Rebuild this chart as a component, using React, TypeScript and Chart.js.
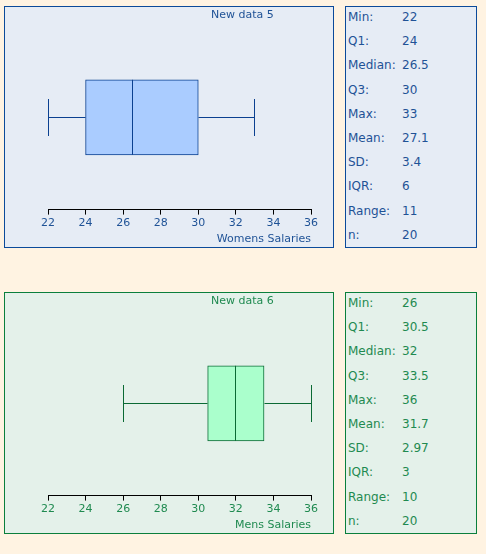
import React, { useEffect, useRef } from "react";
import { Chart, registerables } from "chart.js";

Chart.register(...registerables);

const categories = ["Womens Salaries", "Mens Salaries"];
const titles = ["New data 5", "New data 6"];
const mins = [22, 26];
const q1s = [24, 30.5];
const medians = [26.5, 32];
const q3s = [30, 33.5];
const maxs = [33, 36];
const means = [27.1, 31.7];
const sds = [3.4, 2.97];
const iqrs = [6, 3];
const ranges = [11, 10];
const ns = [20, 20];
const statLabels = ["Min:", "Q1:", "Median:", "Q3:", "Max:", "Mean:", "SD:", "IQR:", "Range:", "n:"];
const axisMin = 22;
const axisMax = 36;
const axisStep = 2;

const FONT = "'DejaVu Sans', Verdana, sans-serif";

const themes = [
  { bg: "#e6ecf5", border: "#0b4a9a", text: "#1f5296", boxFill: "#aaccff", boxStroke: "#0b4090" },
  { bg: "#e4f1ea", border: "#0a7f3c", text: "#1f8a50", boxFill: "#aaffcc", boxStroke: "#0a6a34" },
];

function BoxChart({ idx }: { idx: number }) {
  const ref = useRef<HTMLCanvasElement | null>(null);
  const th = themes[idx];
  useEffect(() => {
    if (!ref.current) return;
    const whiskers = {
      id: "whiskers",
      afterDatasetsDraw(chart: any) {
        const ctx = chart.ctx;
        const xs = chart.scales.x;
        const bar = chart.getDatasetMeta(0).data[0];
        if (!bar) return;
        const cy = Math.round(bar.y) + 0.5;
        const h = bar.height;
        const top = bar.y - h / 2;
        const bot = bar.y + h / 2;
        const px = (v: number) => Math.floor(xs.getPixelForValue(v) + 0.01) + 0.5;
        const capH = 18.5;
        ctx.save();
        ctx.strokeStyle = th.boxStroke;
        ctx.lineWidth = 1;
        ctx.beginPath();
        ctx.moveTo(px(mins[idx]), cy);
        ctx.lineTo(px(q1s[idx]), cy);
        ctx.moveTo(px(q3s[idx]), cy);
        ctx.lineTo(px(maxs[idx]), cy);
        ctx.moveTo(px(mins[idx]), cy - capH);
        ctx.lineTo(px(mins[idx]), cy + capH);
        ctx.moveTo(px(maxs[idx]), cy - capH);
        ctx.lineTo(px(maxs[idx]), cy + capH);
        ctx.moveTo(px(medians[idx]), top);
        ctx.lineTo(px(medians[idx]), bot);
        ctx.stroke();
        ctx.restore();
      },
    };
    const chart = new Chart(ref.current, {
      type: "bar",
      data: {
        labels: [categories[idx]],
        datasets: [
          {
            data: [[q1s[idx], q3s[idx]]] as any,
            backgroundColor: th.boxFill,
            borderColor: th.boxStroke,
            borderWidth: 1,
            borderSkipped: false,
            barThickness: 75,
          },
        ],
      },
      options: {
        indexAxis: "y",
        animation: false,
        responsive: false,
        maintainAspectRatio: false,
        layout: { padding: { left: 43, right: 22, top: 18, bottom: 1 } },
        plugins: { legend: { display: false }, tooltip: { enabled: false } },
        scales: {
          x: {
            type: "linear",
            min: axisMin,
            max: axisMax,
            ticks: { stepSize: axisStep, color: th.text, font: { family: FONT, size: 11 }, padding: 2 },
            grid: { drawOnChartArea: false, drawTicks: true, tickLength: 5, tickColor: "#000", color: "#000" },
            border: { display: true, color: "#000", width: 1 },
            title: {
              display: true,
              text: categories[idx],
              align: "end",
              color: th.text,
              font: { family: FONT, size: 11 },
              padding: { top: 1, bottom: 0 },
            },
          },
          y: { display: false },
        },
      },
      plugins: [whiskers],
    } as any);
    return () => chart.destroy();
  }, [idx]);
  return <canvas ref={ref} width={328} height={240} style={{ display: "block", width: 328, height: 240 }} />;
}

function Panel({ idx, top }: { idx: number; top: number }) {
  const th = themes[idx];
  const vals = [mins[idx], q1s[idx], medians[idx], q3s[idx], maxs[idx], means[idx], sds[idx], iqrs[idx], ranges[idx], ns[idx]];
  return (
    <>
      <div
        style={{
          position: "absolute",
          left: 4,
          top,
          width: 328,
          height: 240,
          border: `1px solid ${th.border}`,
          background: th.bg,
        }}
      >
        <BoxChart idx={idx} />
        <span
          style={{
            position: "absolute",
            left: 206,
            top: 1,
            font: `11px ${FONT}`,
            lineHeight: "13px",
            color: th.text,
            whiteSpace: "nowrap",
          }}
        >
          {titles[idx]}
        </span>
      </div>
      <div
        style={{
          position: "absolute",
          left: 345,
          top,
          width: 130,
          height: 240,
          border: `1px solid ${th.border}`,
          background: th.bg,
          font: `12px ${FONT}`,
          color: th.text,
        }}
      >
        {statLabels.map((lab, k) => (
          <div key={k} style={{ position: "absolute", top: 3 + k * 24.2, left: 2, lineHeight: "14px", whiteSpace: "nowrap" }}>
            <span>{lab}</span>
            <span style={{ position: "absolute", left: 54 }}>{String(vals[k])}</span>
          </div>
        ))}
      </div>
    </>
  );
}

export default function App() {
  return (
    <div style={{ position: "fixed", left: 0, top: 0, width: 486, height: 554, background: "#fff3e2", overflow: "hidden" }}>
      <Panel idx={0} top={6} />
      <Panel idx={1} top={292} />
    </div>
  );
}
